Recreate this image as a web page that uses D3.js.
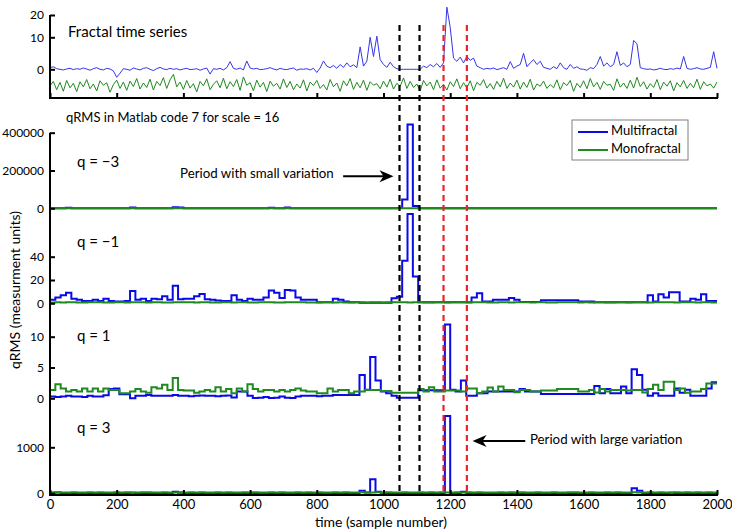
<!DOCTYPE html>
<html>
<head>
<meta charset="utf-8">
<script src="https://cdn.jsdelivr.net/npm/d3@7/dist/d3.min.js"></script>
<style>
  body { margin: 0; background: #fff; }
  text { font-family: Lato, "Open Sans", sans-serif; fill: #000; }
</style>
</head>
<body>
<svg id="chart" width="732" height="531"></svg>
<script>
// top panel: fractal time series, one value every 10 samples
const stepTop = 10;
const multiSeries = [
  0.5, 0.8, 0.2, 0.0, -0.2, 0.1, 0.3, -0.1, 0.2, 0.0,
  0.4, 0.1, -0.3, 0.2, 0.5, 0.0, -0.2, 0.3, 0.1, -0.5,
  -2.5, -1.2, 0.2, 0.0, -0.3, 0.4, 0.1, -0.2, 0.3, 0.5,
  0.0, -0.4, 0.2, 0.6, 0.1, -0.1, 0.3, 0.0, 0.2, -0.2,
  0.1, 0.3, -0.1, 0.0, 0.2, -0.3, 0.1, 0.4, -1.5, 0.2,
  0.0, 0.3, -0.2, 0.5, 2.4, 0.3, 0.0, 0.4, -0.2, 2.6,
  0.4, 0.1, 0.3, -0.1, 0.0, 0.2, 0.5, 0.1, -0.2, 0.3,
  0.0, -0.1, 0.2, 0.4, -0.3, 0.1, 0.0, 0.2, -0.2, 0.3,
  -1.0, 0.4, 2.6, 1.0, 0.5, 1.2, 0.3, 1.5, 0.6, 2.0,
  0.8, 1.4, 0.5, 7.0, 1.0, 2.5, 10.0, 4.0, 10.5, 3.0,
  1.5, 0.6, 2.2, 0.8, 0.2, 0.0, 0.0, 0.0, 0.0, 0.0,
  0.0, 0.0, 1.0, 0.5, 1.5, 0.8, 1.8, 0.6, 2.0, 23.5,
  14.5, 3.5, 2.5, 3.8, 2.0, 4.0, 2.8, 3.5, 1.0, 0.5,
  0.0, 0.3, 0.1, 0.4, -0.1, 0.2, 0.5, 0.0, 2.4, 0.3,
  1.0, 1.5, 5.0, 0.8, 2.0, 3.0, 1.5, 2.5, 0.6, 0.3,
  0.0, 0.8, 0.2, 2.0, 0.5, 0.0, 1.5, 0.3, 0.8, 0.1,
  0.0, -0.3, 0.5, 0.2, 1.5, 4.0, 1.0, 2.0, 0.8, 1.5,
  5.5, 1.2, 2.0, 0.8, 1.5, 9.0, 8.0, 0.5, 0.2, 0.0,
  0.1, -0.2, 0.0, 0.3, 0.0, -0.1, 0.2, 0.0, 0.4, 0.1,
  4.0, 0.3, 0.0, 0.2, 0.5, 0.1, 0.0, 0.3, 0.6, 5.5,
  0.3
];
const monoSeries = [
  -5.2, -3.8, -6.4, -4.1, -6.9, -3.5, -5.8, -4.4, -7.0, -3.9,
  -5.5, -3.2, -6.1, -4.6, -6.8, -3.6, -5.0, -4.2, -7.2, -4.8,
  -3.4, -6.0, -4.0, -6.6, -3.7, -5.4, -2.9, -6.2, -4.3, -5.7,
  -3.1, -6.5, -3.8, -5.1, -2.6, -6.0, -3.3, -1.6, -5.5, -4.0,
  -6.3, -3.5, -5.9, -4.5, -7.1, -3.8, -5.2, -3.0, -6.4, -4.7,
  -3.6, -5.8, -2.8, -6.1, -3.9, -5.4, -3.2, -6.6, -2.4, -5.0,
  -4.2, -6.7, -3.4, -5.6, -4.1, -7.0, -3.7, -5.3, -4.4, -6.2,
  -3.0, -5.7, -3.8, -6.4, -4.6, -5.9, -3.3, -6.8, -4.0, -5.1,
  -3.5, -6.0, -4.8, -6.5, -3.2, -5.5, -4.3, -6.9, -3.6, -5.2,
  -2.9, -6.3, -4.1, -5.8, -3.4, -6.6, -3.9, -5.0, -4.5, -6.1,
  -3.7, -5.6, -3.1, -6.2, -4.4, -5.3, -2.7, -6.0, -3.8, -5.7,
  -4.6, -6.8, -3.5, -5.2, -4.0, -6.4, -3.3, -5.9, -4.7, -6.5,
  -3.9, -5.4, -3.0, -6.1, -4.2, -5.8, -3.6, -6.7, -4.1, -5.0,
  -3.2, -5.9, -4.5, -6.3, -3.8, -5.5, -2.8, -6.0, -4.3, -5.6,
  -3.4, -6.2, -4.0, -5.7, -3.1, -6.5, -4.6, -5.3, -3.7, -6.0,
  -4.8, -5.8, -3.3, -6.4, -4.2, -5.1, -3.5, -6.9, -4.4, -5.7,
  -3.6, -6.1, -2.9, -5.5, -4.1, -6.3, -3.8, -5.0, -4.7, -6.6,
  -3.0, -5.6, -4.3, -6.0, -3.4, -5.9, -2.5, -5.4, -3.9, -6.2,
  -4.5, -5.7, -3.2, -6.4, -4.0, -5.3, -3.6, -6.8, -4.2, -5.5,
  -3.5, -6.0, -4.4, -5.8, -3.1, -6.3, -3.9, -5.2, -4.6, -5.9,
  -4.0
];

// qRMS per segment of 16 samples (125 segments)
const segSize = 16;
const qm3Multi = [
  300, 200, 400, 3000, 300, 200, 300, 200, 100, 300,
  200, 100, 200, 300, 400, 4000, 300, 200, 100, 200,
  300, 200, 400, 5000, 4000, 300, 200, 100, 200, 300,
  200, 300, 100, 200, 300, 200, 100, 200, 300, 200,
  400, 3000, 200, 300, 4000, 300, 200, 100, 200, 100,
  100, 100, 100, 200, 100, 100, 100, 100, 100, 100,
  100, 100, 100, 100, 800, 1500, 47000, 444000, 12000, 100,
  100, 100, 100, 100, 100, 100, 100, 100, 200, 200,
  300, 100, 100, 100, 100, 100, 200, 100, 100, 100,
  100, 100, 100, 100, 100, 100, 100, 100, 100, 100,
  100, 100, 100, 100, 100, 100, 100, 100, 100, 200,
  100, 100, 300, 100, 300, 200, 300, 300, 100, 100,
  200, 100, 300, 100, 100
];
const qm3Mono = [
  40, 60, 30, 50, 70, 40, 30, 60, 50, 40,
  30, 50, 60, 40, 70, 50, 30, 40, 60, 50,
  40, 30, 50, 60, 40, 70, 50, 30, 40, 60,
  50, 40, 60, 30, 50, 40, 60, 70, 40, 30,
  50, 60, 40, 30, 50, 60, 70, 40, 50, 30,
  40, 60, 50, 30, 40, 70, 50, 60, 40, 30,
  50, 40, 60, 30, 50, 40, 60, 50, 30, 40,
  60, 50, 40, 30, 70, 50, 40, 60, 30, 50,
  40, 60, 50, 30, 40, 50, 60, 40, 70, 30,
  50, 40, 60, 50, 30, 40, 60, 50, 40, 30,
  60, 50, 40, 70, 30, 50, 40, 60, 50, 40,
  30, 50, 60, 40, 50, 70, 40, 30, 60, 50,
  40, 30, 50, 60, 40
];
const qm1Multi = [
  3, 5, 7, 9, 4, 3, 2, 2, 3, 2,
  4, 2, 1.5, 1.5, 2, 10.5, 3, 4, 2, 4,
  3.5, 6, 3, 15, 3.5, 4, 4, 6, 8, 3.5,
  3, 2.5, 2, 2, 7, 3, 2, 4, 3, 3,
  5, 11, 9, 4.5, 11.5, 11, 5, 3, 3, 3,
  1, 1, 1, 4, 3, 1.5, 1, 1, 0.5, 0.5,
  0.5, 0.5, 0.5, 0.5, 4.3, 5.7, 36.6, 76.6, 22.9, 1,
  1, 1, 1, 1, 1, 1, 1, 1, 1, 5,
  8.6, 1.5, 1.5, 3, 3, 3, 4.6, 3, 1.2, 1.2,
  1.2, 1.2, 2.6, 2.6, 2.6, 2.6, 2.6, 2.6, 2.6, 1.5,
  1.5, 1.5, 1, 1, 1, 1, 1, 1, 1, 1,
  1, 1, 7, 1.5, 7.7, 5, 9.4, 9.4, 1.5, 1.5,
  4, 3, 7.7, 2, 2
];
const qm1Mono = [
  0.6, 0.8, 0.7, 0.9, 0.8, 0.6, 0.7, 0.9, 1.0, 0.8,
  0.7, 0.6, 0.8, 0.9, 0.7, 0.8, 1.0, 0.9, 0.7, 0.8,
  0.9, 0.7, 0.6, 0.8, 1.0, 0.9, 0.8, 0.7, 0.9, 0.8,
  0.6, 0.7, 0.9, 0.8, 0.7, 1.0, 0.8, 0.6, 0.7, 0.9,
  0.8, 0.9, 0.7, 0.6, 0.8, 0.9, 1.0, 0.8, 0.7, 0.6,
  0.7, 0.8, 0.9, 0.7, 0.8, 0.6, 0.7, 0.9, 0.8, 0.7,
  0.9, 0.8, 0.7, 0.8, 0.9, 1.0, 0.8, 0.7, 0.9, 0.8,
  0.7, 0.6, 0.8, 0.9, 0.7, 0.8, 0.9, 0.8, 0.7, 0.9,
  1.0, 0.8, 0.7, 0.6, 0.8, 0.9, 0.7, 0.8, 0.9, 0.8,
  0.7, 0.9, 0.8, 0.7, 0.6, 0.8, 0.9, 1.0, 0.8, 0.7,
  0.8, 0.7, 0.9, 0.8, 0.7, 0.6, 0.8, 0.9, 0.7, 0.8,
  0.9, 0.8, 0.7, 0.9, 0.8, 1.0, 0.9, 0.7, 0.8, 0.9,
  0.8, 0.7, 0.9, 0.8, 0.7
];
const q1Multi = [
  0.3, 0.2, 0.3, 0.4, 0.3, 0.3, 0.2, 0.4, 0.3, 0.3,
  0.5, 1.5, 1.6, 0.65, 0.65, 0.0, 0.4, 0.4, 0.55, 0.4,
  0.4, 0.4, 0.4, 0.55, 0.4, 0.4, 0.35, 0.4, 0.45, 0.4,
  0.4, 0.35, 0.4, 0.45, 0.15, 1.1, 1.1, 0.4, 0.05, 0.1,
  0.2, 0.05, 0.1, 0.3, 0.1, 0.05, 0.3, 0.4, 0.4, 0.4,
  0.35, 0.4, 0.4, 0.55, 0.55, 0.55, 0.55, 0.55, 3.8, 1.4,
  6.7, 2.9, 1.1, 0.8, 0.4, 0.1, 0.1, 0.1, 0.1, 1.3,
  1.3, 1.3, 1.3, 1.3, 12, 1.4, 1.1, 2.9, 0.4, 0.4,
  0.8, 0.8, 1.1, 1.1, 1.1, 1.1, 1.1, 1.1, 1.5, 1.1,
  1.1, 1.1, 0.7, 0.7, 0.7, 0.7, 0.7, 0.7, 0.7, 0.7,
  0.7, 0.7, 2.0, 0.8, 1.5, 0.8, 0.8, 1.9, 0.8, 4.7,
  3.8, 1.4, 0.4, 0.8, 0.4, 0.4, 0.4, 1.6, 0.9, 1.4,
  0.4, 0.4, 0.4, 1.6, 2.6
];
const q1Mono = [
  1.36, 2.3, 1.6, 1.1, 1.36, 1.1, 1.6, 1.1, 1.6, 1.1,
  1.6, 1.36, 1.36, 0.8, 0.8, 1.1, 1.5, 1.1, 0.9, 1.8,
  1.6, 2.2, 1.36, 3.3, 1.36, 1.25, 1.25, 0.9, 1.1, 1.36,
  1.1, 1.8, 1.1, 1.5, 0.8, 1.6, 1.1, 2.3, 1.5, 1.1,
  1.36, 1.36, 1.1, 1.36, 1.1, 1.36, 1.6, 1.25, 1.1, 1.1,
  0.8, 0.8, 1.6, 1.1, 1.36, 1.36, 0.8, 1.1, 1.1, 1.36,
  1.36, 1.36, 1.2, 1.2, 0.9, 0.9, 0.9, 0.9, 0.9, 1.5,
  1.1, 1.8, 1.1, 1.1, 1.25, 1.25, 1.25, 1.1, 1.6, 1.6,
  0.8, 1.1, 1.75, 1.1, 1.9, 1.36, 1.36, 1.0, 1.36, 1.36,
  1.1, 1.1, 1.25, 1.25, 1.25, 1.5, 1.5, 1.5, 1.5, 1.1,
  1.1, 1.36, 0.95, 1.5, 1.1, 1.36, 1.36, 1.36, 1.25, 1.36,
  1.36, 0.95, 1.5, 2.2, 1.36, 2.7, 2.7, 1.36, 1.6, 0.9,
  1.1, 1.1, 1.5, 2.4, 2.4
];
const q3Multi = [
  10, 20, 8, 5, 6, 4, 5, 7, 6, 5,
  6, 4, 5, 6, 8, 10, 6, 5, 4, 6,
  5, 7, 8, 36, 10, 6, 5, 4, 6, 5,
  4, 5, 6, 5, 4, 6, 5, 4, 3, 4,
  5, 6, 4, 5, 6, 4, 5, 4, 5, 4,
  3, 4, 3, 5, 4, 4, 5, 6, 58, 20,
  305, 36, 10, 5, 3, 2, 1, 1, 1, 4,
  4, 4, 5, 6, 1680, 8, 5, 36, 4, 4,
  5, 4, 6, 5, 4, 6, 5, 4, 6, 5,
  4, 5, 4, 4, 5, 5, 4, 4, 5, 4,
  4, 5, 8, 5, 6, 5, 5, 7, 5, 110,
  55, 6, 5, 6, 5, 8, 12, 6, 5, 6,
  5, 5, 5, 6, 8
];
const q3Mono = [
  18, 22, 15, 20, 24, 17, 19, 23, 16, 21,
  20, 18, 25, 17, 22, 19, 16, 21, 23, 18,
  20, 24, 17, 19, 22, 16, 21, 18, 23, 20,
  17, 22, 19, 24, 18, 16, 21, 20, 23, 17,
  19, 22, 18, 25, 20, 16, 21, 19, 23, 18,
  22, 17, 20, 24, 18, 21, 16, 19, 22, 20,
  18, 23, 17, 21, 19, 16, 22, 20, 18, 24,
  17, 21, 19, 23, 20, 18, 22, 16, 21, 19,
  24, 17, 20, 18, 22, 19, 23, 16, 21, 20,
  18, 22, 17, 19, 24, 20, 16, 21, 23, 18,
  19, 22, 20, 17, 21, 18, 24, 16, 20, 23,
  19, 17, 22, 18, 21, 20, 16, 24, 19, 22,
  18, 21, 20, 23, 19
];

const xTicks = [0, 200, 400, 600, 800, 1000, 1200, 1400, 1600, 1800, 2000];
const markers = [
  {at: 1048, color: "#000"},
  {at: 1108, color: "#000"},
  {at: 1180, color: "#e8262a"},
  {at: 1250, color: "#e8262a"}
];

const BLUE = "#0a0ae6", GREEN = "#1f8a1f";

const svg = d3.select("#chart");

const x = d3.scaleLinear().domain([0, 2000]).range([50, 717]);

// top panel axis is not linear in the figure (20 sits at the axis top)
const yTop = d3.scaleLinear().domain([-9, 0, 10, 20]).range([98, 69.3, 37.3, 15]);

const panels = [
  {label: "q = \u22123", multi: qm3Multi, mono: qm3Mono, ticks: [0, 200000, 400000],
   y: d3.scaleLinear().domain([0, 400000]).range([208.3, 132.7]), labelY: 163},
  {label: "q = \u22121", multi: qm1Multi, mono: qm1Mono, ticks: [0, 20, 40],
   y: d3.scaleLinear().domain([0, 40]).range([303.3, 256.7]), labelY: 243},
  {label: "q = 1", multi: q1Multi, mono: q1Mono, ticks: [0, 5, 10],
   y: d3.scaleLinear().domain([0, 10]).range([398.3, 336.7]), labelY: 337},
  {label: "q = 3", multi: q3Multi, mono: q3Mono, ticks: [0, 1000],
   y: d3.scaleLinear().domain([0, 1000]).range([493.3, 447.3]), labelY: 429}
];
const bottomY = 495;
const fmt = d3.format("d");

// ---- top panel ----
const topLine = d3.line()
  .x((d, i) => x(i * stepTop))
  .y(d => yTop(d));

svg.append("path").datum(multiSeries)
  .attr("d", topLine).attr("fill", "none")
  .attr("stroke", "#3535ea").attr("stroke-width", 1);
svg.append("path").datum(monoSeries)
  .attr("d", topLine).attr("fill", "none")
  .attr("stroke", GREEN).attr("stroke-width", 1);

svg.append("g").attr("class", "yaxis")
  .attr("transform", "translate(50,0)")
  .call(d3.axisLeft(yTop).tickValues([0, 10, 20]).tickFormat(fmt)
    .tickSizeInner(-5).tickSizeOuter(0).tickPadding(6));
svg.append("g")
  .attr("transform", `translate(0,${yTop(-9)})`)
  .call(d3.axisBottom(x).tickValues(xTicks).tickSizeInner(-5).tickSizeOuter(0).tickFormat(""));

svg.append("text").attr("x", 68).attr("y", 37)
  .style("font-size", "15px").text("Fractal time series");

// ---- qRMS panels ----
function stairs(values) {
  const pts = values.map((v, i) => [i * segSize, v]);
  pts.push([values.length * segSize, values[values.length - 1]]);
  return pts;
}

panels.forEach(p => {
  const line = d3.line()
    .x(d => x(d[0]))
    .y(d => p.y(d[1]))
    .curve(d3.curveStepAfter);
  // multifractal plotted first, monofractal drawn over it
  svg.append("path").datum(stairs(p.multi))
    .attr("d", line).attr("fill", "none")
    .attr("stroke", BLUE).attr("stroke-width", 2);
  svg.append("path").datum(stairs(p.mono))
    .attr("d", line).attr("fill", "none")
    .attr("stroke", GREEN).attr("stroke-width", 2);

  svg.append("g").attr("class", "yaxis")
    .attr("transform", "translate(50,0)")
    .call(d3.axisLeft(p.y).tickValues(p.ticks).tickFormat(fmt)
      .tickSizeInner(-5).tickSizeOuter(0).tickPadding(6));

  svg.append("text").attr("x", 77).attr("y", p.labelY)
    .attr("dominant-baseline", "middle")
    .style("font-size", "15px").text(p.label);
});

svg.append("g").attr("class", "xaxis")
  .attr("transform", `translate(0,${bottomY})`)
  .call(d3.axisBottom(x).tickValues(xTicks).tickFormat(fmt)
    .tickSizeInner(-5).tickSizeOuter(0).tickPadding(5));

// styling of all axes
svg.selectAll(".domain").remove();
svg.selectAll(".tick line").attr("stroke", "#000").attr("stroke-width", 2);
svg.selectAll(".tick text").style("font-family", "Lato, 'Open Sans', sans-serif");
svg.selectAll(".yaxis .tick text").style("font-size", "12px");
svg.selectAll(".xaxis .tick text").style("font-size", "13px");

// axis spines
svg.append("line")
  .attr("x1", x(0)).attr("x2", x(0))
  .attr("y1", yTop(20)).attr("y2", yTop(-9) + 1)
  .attr("stroke", "#000").attr("stroke-width", 2);
svg.append("line")
  .attr("x1", x(0) - 1).attr("x2", x(2000) + 1)
  .attr("y1", yTop(-9)).attr("y2", yTop(-9))
  .attr("stroke", "#000").attr("stroke-width", 2);
svg.append("line")
  .attr("x1", x(0)).attr("x2", x(0))
  .attr("y1", panels[0].y(400000)).attr("y2", bottomY + 1)
  .attr("stroke", "#000").attr("stroke-width", 2);
svg.append("line")
  .attr("x1", x(0) - 1).attr("x2", x(2000) + 1)
  .attr("y1", bottomY).attr("y2", bottomY)
  .attr("stroke", "#000").attr("stroke-width", 2);

// dashed period markers
svg.selectAll(".marker")
  .data(markers)
  .enter().append("line")
  .attr("class", "marker")
  .attr("x1", d => x(d.at)).attr("x2", d => x(d.at))
  .attr("y1", yTop(15.5)).attr("y2", bottomY)
  .attr("stroke", d => d.color)
  .attr("stroke-width", 2.2)
  .attr("stroke-dasharray", "6,4");

// titles and annotations
svg.append("text").attr("x", 66).attr("y", 119)
  .attr("dominant-baseline", "middle")
  .style("font-size", "13px").text("qRMS in Matlab code 7 for scale = 16");

function arrow(x1, x2, yy) {
  const dir = x2 > x1 ? 1 : -1;
  svg.append("line").attr("x1", x1).attr("x2", x2 - dir * 8)
    .attr("y1", yy).attr("y2", yy)
    .attr("stroke", "#000").attr("stroke-width", 2);
  svg.append("path")
    .attr("d", `M${x2},${yy} L${x2 - dir * 14},${yy - 6} L${x2 - dir * 10},${yy} L${x2 - dir * 14},${yy + 6} Z`)
    .attr("fill", "#000");
}

const pm3 = panels[0].y, p3 = panels[3].y;
svg.append("text").attr("x", x(390)).attr("y", pm3(178000))
  .attr("dominant-baseline", "middle")
  .style("font-size", "13.3px").text("Period with small variation");
arrow(x(879), x(1030), pm3(170000));

svg.append("text").attr("x", x(1439)).attr("y", p3(1150))
  .attr("dominant-baseline", "middle")
  .style("font-size", "13.3px").text("Period with large variation");
arrow(x(1425), x(1267), p3(1137));

// legend
const legend = svg.append("g").attr("transform", "translate(572,120)");
legend.append("rect").attr("width", 116).attr("height", 40)
  .attr("fill", "#fff").attr("stroke", "#808080").attr("stroke-width", 1);
[["Multifractal", BLUE], ["Monofractal", GREEN]].forEach((d, i) => {
  const yy = 12 + i * 18;
  legend.append("line").attr("x1", 6).attr("x2", 36).attr("y1", yy).attr("y2", yy)
    .attr("stroke", d[1]).attr("stroke-width", 2);
  legend.append("text").attr("x", 39).attr("y", yy)
    .attr("dominant-baseline", "middle")
    .style("font-size", "13px").text(d[0]);
});

// axis labels
svg.append("text")
  .attr("transform", "translate(16,290) rotate(-90)")
  .attr("text-anchor", "middle").attr("dominant-baseline", "middle")
  .style("font-size", "14px").text("qRMS (measurment units)");
svg.append("text").attr("x", 381).attr("y", 523)
  .attr("text-anchor", "middle").attr("dominant-baseline", "middle")
  .style("font-size", "14px").text("time (sample number)");
</script>
</body>
</html>
